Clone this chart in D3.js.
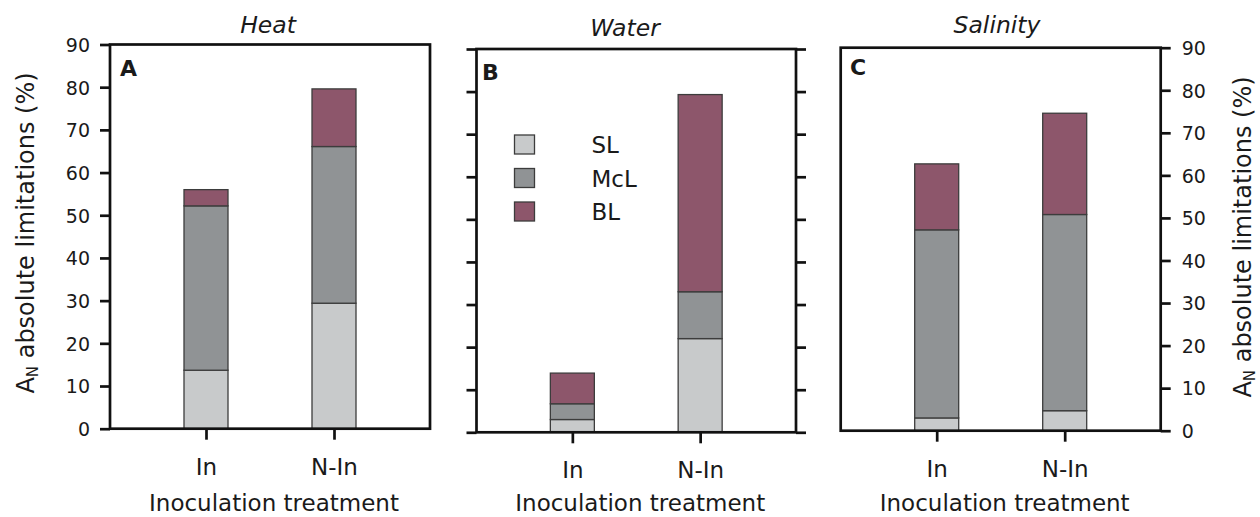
<!DOCTYPE html>
<html>
<head>
<meta charset="utf-8">
<script src="https://cdn.jsdelivr.net/npm/d3@7"></script>
<style>
  body { margin: 0; background: #fff; }
  text { font-family: "DejaVu Sans", sans-serif; fill: #1a1a1a; }
</style>
</head>
<body>
<svg id="chart"></svg>
<script>
// values (segment heights, % of A_N)
const categories = ["In", "N-In"]
const seriesNames = ["SL", "McL", "BL"]

const heatSL = [13.7, 29.4]
const heatMcL = [38.5, 36.7]
const heatBL = [3.8, 13.5]

const waterSL = [3.0, 22.0]
const waterMcL = [3.7, 11.0]
const waterBL = [7.2, 46.3]

const salinitySL = [3.0, 4.7]
const salinityMcL = [44.2, 46.1]
const salinityBL = [15.5, 23.8]

const yTicks = [0, 10, 20, 30, 40, 50, 60, 70, 80, 90]
const colors = { SL: "#c8cacb", McL: "#909395", BL: "#8d566b" }

const width = 1260
const height = 517

const svg = d3.select('#chart')
    .attr('width', width)
    .attr('height', height)

svg.append('rect').attr('width', width).attr('height', height).attr('fill', '#fff')

// panel layout
const panels = [
    { letter: 'A', title: 'Heat', sl: heatSL, mcl: heatMcL, bl: heatBL,
      x0: 110, x1: 430, y0: 44.5, y1: 428.7, titleX: 268, titleY: 33.3,
      letterX: 120, letterY: 75.5, left: 'labels', right: 'none' },
    { letter: 'B', title: 'Water', sl: waterSL, mcl: waterMcL, bl: waterBL,
      x0: 476.5, x1: 796, y0: 49, y1: 432.3, titleX: 625, titleY: 35.5,
      letterX: 482, letterY: 79.5, left: 'ticks', right: 'ticks', legend: true },
    { letter: 'C', title: 'Salinity', sl: salinitySL, mcl: salinityMcL, bl: salinityBL,
      x0: 840.7, x1: 1160.7, y0: 47.7, y1: 430.7, titleX: 997, titleY: 33.3,
      letterX: 850, letterY: 75, left: 'none', right: 'labels' }
]

const axisStroke = 2.7
const barWidth = 44

function styleAxis(g) {
    g.select('.domain').remove()
    g.selectAll('.tick line').attr('stroke', '#111').attr('stroke-width', axisStroke)
}

for (const p of panels) {
    const g = svg.append('g')

    const x = d3.scalePoint().domain(categories).range([p.x0, p.x1]).padding(0.75)
    const y = d3.scaleLinear().domain([0, 90]).range([p.y1, p.y0])

    // stacked bars
    const rows = categories.map((c, i) => ({ cat: c, SL: p.sl[i], McL: p.mcl[i], BL: p.bl[i] }))
    const stacked = d3.stack().keys(seriesNames)(rows)

    g.append('g').selectAll('g')
        .data(stacked)
        .join('g')
        .attr('fill', d => colors[d.key])
        .selectAll('rect')
        .data(d => d)
        .join('rect')
        .attr('x', d => x(d.data.cat) - barWidth / 2)
        .attr('width', barWidth)
        .attr('y', d => y(d[1]))
        .attr('height', d => y(d[0]) - y(d[1]))
        .attr('stroke', '#3c3c3c')
        .attr('stroke-width', 1.3)

    // left axis
    if (p.left != 'none') {
        const ax = d3.axisLeft(y).tickValues(yTicks).tickSize(10).tickSizeOuter(0).tickPadding(10)
        if (p.left == 'ticks') ax.tickFormat('')
        g.append('g').attr('transform', `translate(${p.x0},0)`).call(ax).call(styleAxis)
            .selectAll('text').attr('font-size', 19).attr('dy', '0.36em')
            .attr('font-family', '"DejaVu Sans", sans-serif').attr('fill', '#1a1a1a')
    }
    // right axis
    if (p.right != 'none') {
        const ax = d3.axisRight(y).tickValues(yTicks).tickSize(10).tickSizeOuter(0).tickPadding(11)
        if (p.right == 'ticks') ax.tickFormat('')
        g.append('g').attr('transform', `translate(${p.x1},0)`).call(ax).call(styleAxis)
            .selectAll('text').attr('font-size', 19).attr('dy', '0.36em')
            .attr('font-family', '"DejaVu Sans", sans-serif').attr('fill', '#1a1a1a')
    }

    // bottom axis
    const bx = d3.axisBottom(x).tickSize(11).tickSizeOuter(0)
    g.append('g').attr('transform', `translate(0,${p.y1})`).call(bx).call(styleAxis)
        .selectAll('text').attr('font-size', 23).attr('y', 46).attr('dy', 0)
        .attr('font-family', '"DejaVu Sans", sans-serif').attr('fill', '#1a1a1a')

    // frame
    g.append('rect')
        .attr('x', p.x0).attr('y', p.y0)
        .attr('width', p.x1 - p.x0).attr('height', p.y1 - p.y0)
        .attr('fill', 'none').attr('stroke', '#111').attr('stroke-width', axisStroke)

    // panel title and letter
    g.append('text').attr('x', p.titleX).attr('y', p.titleY)
        .attr('text-anchor', 'middle').attr('font-size', 23.5).attr('font-style', 'italic')
        .text(p.title)
    g.append('text').attr('x', p.letterX).attr('y', p.letterY)
        .attr('font-size', 22).attr('font-weight', 'bold')
        .text(p.letter)

    // x axis title
    g.append('text').attr('x', (p.x0 + p.x1) / 2 + 4).attr('y', 510.5)
        .attr('text-anchor', 'middle').attr('font-size', 23)
        .text('Inoculation treatment')

    if (p.legend) {
        const lg = g.append('g').attr('transform', `translate(${p.x0 + 38},${p.y0 + 86})`)
        const item = lg.selectAll('g').data(seriesNames).join('g')
            .attr('transform', (d, i) => `translate(0,${i * 33.5})`)
        item.append('rect').attr('width', 20).attr('height', 19)
            .attr('fill', d => colors[d]).attr('stroke', '#3c3c3c').attr('stroke-width', 1.3)
        item.append('text').attr('x', 77).attr('y', 18).attr('font-size', 23).text(d => d)
    }
}

// y axis titles
function yTitle(xPos, yPos) {
    const t = svg.append('text')
        .attr('transform', `translate(${xPos},${yPos}) rotate(-90)`)
        .attr('text-anchor', 'middle').attr('font-size', 24)
    t.append('tspan').text('A')
    t.append('tspan').attr('font-size', 15).attr('dy', 4).text('N')
    t.append('tspan').attr('dy', -4).text(' absolute limitations (%)')
}
yTitle(33.5, 233)
yTitle(1250.5, 237)
</script>
</body>
</html>
